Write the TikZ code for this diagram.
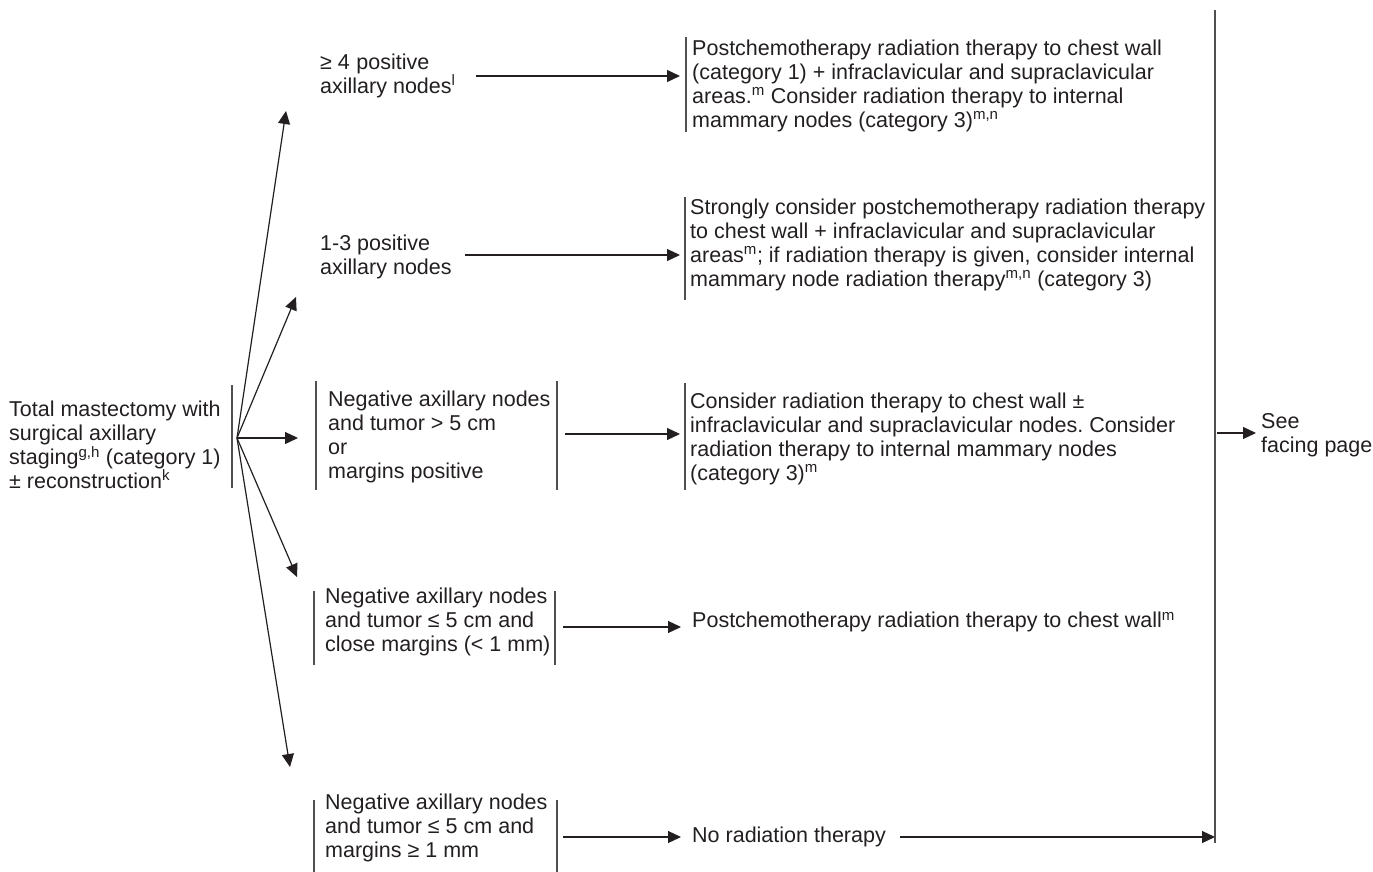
\documentclass[tikz,border=0pt]{standalone}
\usepackage{fontspec}
\setmainfont{Liberation Sans}
\usetikzlibrary{arrows.meta}
\definecolor{ink}{HTML}{231F20}
\definecolor{rule}{HTML}{505050}
\frenchspacing
\begin{document}
\begin{tikzpicture}[x=1pt,y=-1pt,
  txt/.style={font=\fontsize{21.5}{23.8}\selectfont, text=ink, align=left, inner sep=0pt, anchor=west},
  boxt/.style={txt, inner xsep=6pt},
  arr/.style={draw=ink, line width=1.2pt, -{Triangle[length=13pt,width=12pt]}},
  bar/.style={draw=rule, line width=1.1pt}]
\useasboundingbox (0,0) rectangle (1373,872);

% starting procedure
\node[txt] (root) at (9,445) {Total mastectomy with\\surgical axillary\\staging\textsuperscript{g,h} (category 1)\\± reconstruction\textsuperscript{k}};
\draw[bar] (232,385) -- (232,488);
\coordinate (fan) at (237,438);

% nodal findings
\node[txt] (g1) at (320,76) {≥ 4\hspace{0.3em}positive\\axillary nodes\textsuperscript{l}};
\node[txt] (g2) at (320,257) {1-3 positive\\axillary nodes};
\node[txt] (g3) at (328,437) {Negative axillary nodes\\and tumor > 5 cm\\or\\margins positive};
\node[txt] (g4) at (325,622) {Negative axillary nodes\\and tumor ≤ 5 cm and\\close margins (< 1 mm)};
\node[txt] (g5) at (325,828) {Negative axillary nodes\\and tumor ≤ 5 cm and\\margins ≥ 1 mm};
\draw[bar] (316,381) -- (316,490) (557,381) -- (557,490);
\draw[bar] (314,591) -- (314,665) (555,591) -- (555,665);
\draw[bar] (314,800) -- (314,872) (557,800) -- (557,872);

% fan of branches
\coordinate (h1) at (286,111);
\coordinate (h2) at (296,297);
\coordinate (h3) at (298,438);
\coordinate (h4) at (297,577);
\coordinate (h5) at (290,767);
\foreach \h in {h1,h2,h3,h4,h5} \draw[arr] (fan) -- (\h);

% radiation recommendations
\node[boxt] (b1) at (686,86) {Postchemotherapy radiation therapy to chest wall\\(category 1) + infraclavicular and supraclavicular\\areas.\textsuperscript{m} Consider radiation therapy to internal\\mammary nodes (category 3)\textsuperscript{m,n}};
\node[boxt] (b2) at (684,245) {Strongly consider postchemotherapy radiation therapy\\to chest wall + infraclavicular and supraclavicular\\areas\textsuperscript{m}; if radiation therapy is given, consider internal\\mammary node radiation therapy\textsuperscript{m,n} (category 3)};
\node[boxt] (b3) at (684,439) {Consider radiation therapy to chest wall ±\\infraclavicular and supraclavicular nodes. Consider\\radiation therapy to internal mammary nodes\\(category 3)\textsuperscript{m}};
\node[boxt] (b4) at (686,622) {Postchemotherapy radiation therapy to chest wall\textsuperscript{m}};
\node[boxt] (b5) at (686,837) {No radiation therapy};
\draw[bar] (686,37) -- (686,132);
\draw[bar] (685,197) -- (685,300);
\draw[bar] (685,383) -- (685,490);

% branch arrows
\coordinate (s1) at (476,76);
\coordinate (s2) at (465,255);
\coordinate (s3) at (565,434);
\coordinate (s4) at (563,627);
\coordinate (s5) at (563,837);
\draw[arr] (s1) -- (s1 -| 680,0);
\draw[arr] (s2) -- (s2 -| 680,0);
\draw[arr] (s3) -- (s3 -| 680,0);
\draw[arr] (s4) -- (s4 -| 681,0);
\draw[arr] (s5) -- (s5 -| 681,0);

% collecting line and exit
\coordinate (top) at (1215,10);
\coordinate (bot) at (1215,843);
\draw[bar] (top) -- (bot);
\coordinate (s6) at (900,837);
\draw[arr] (s6) -- (s6 -| bot);
\node[txt] (see) at (1261,435) {See\\facing page};
\coordinate (s7) at (1217,433);
\draw[arr, shorten >=5pt] (s7) -- (s7 -| see.west);
\end{tikzpicture}
\end{document}
